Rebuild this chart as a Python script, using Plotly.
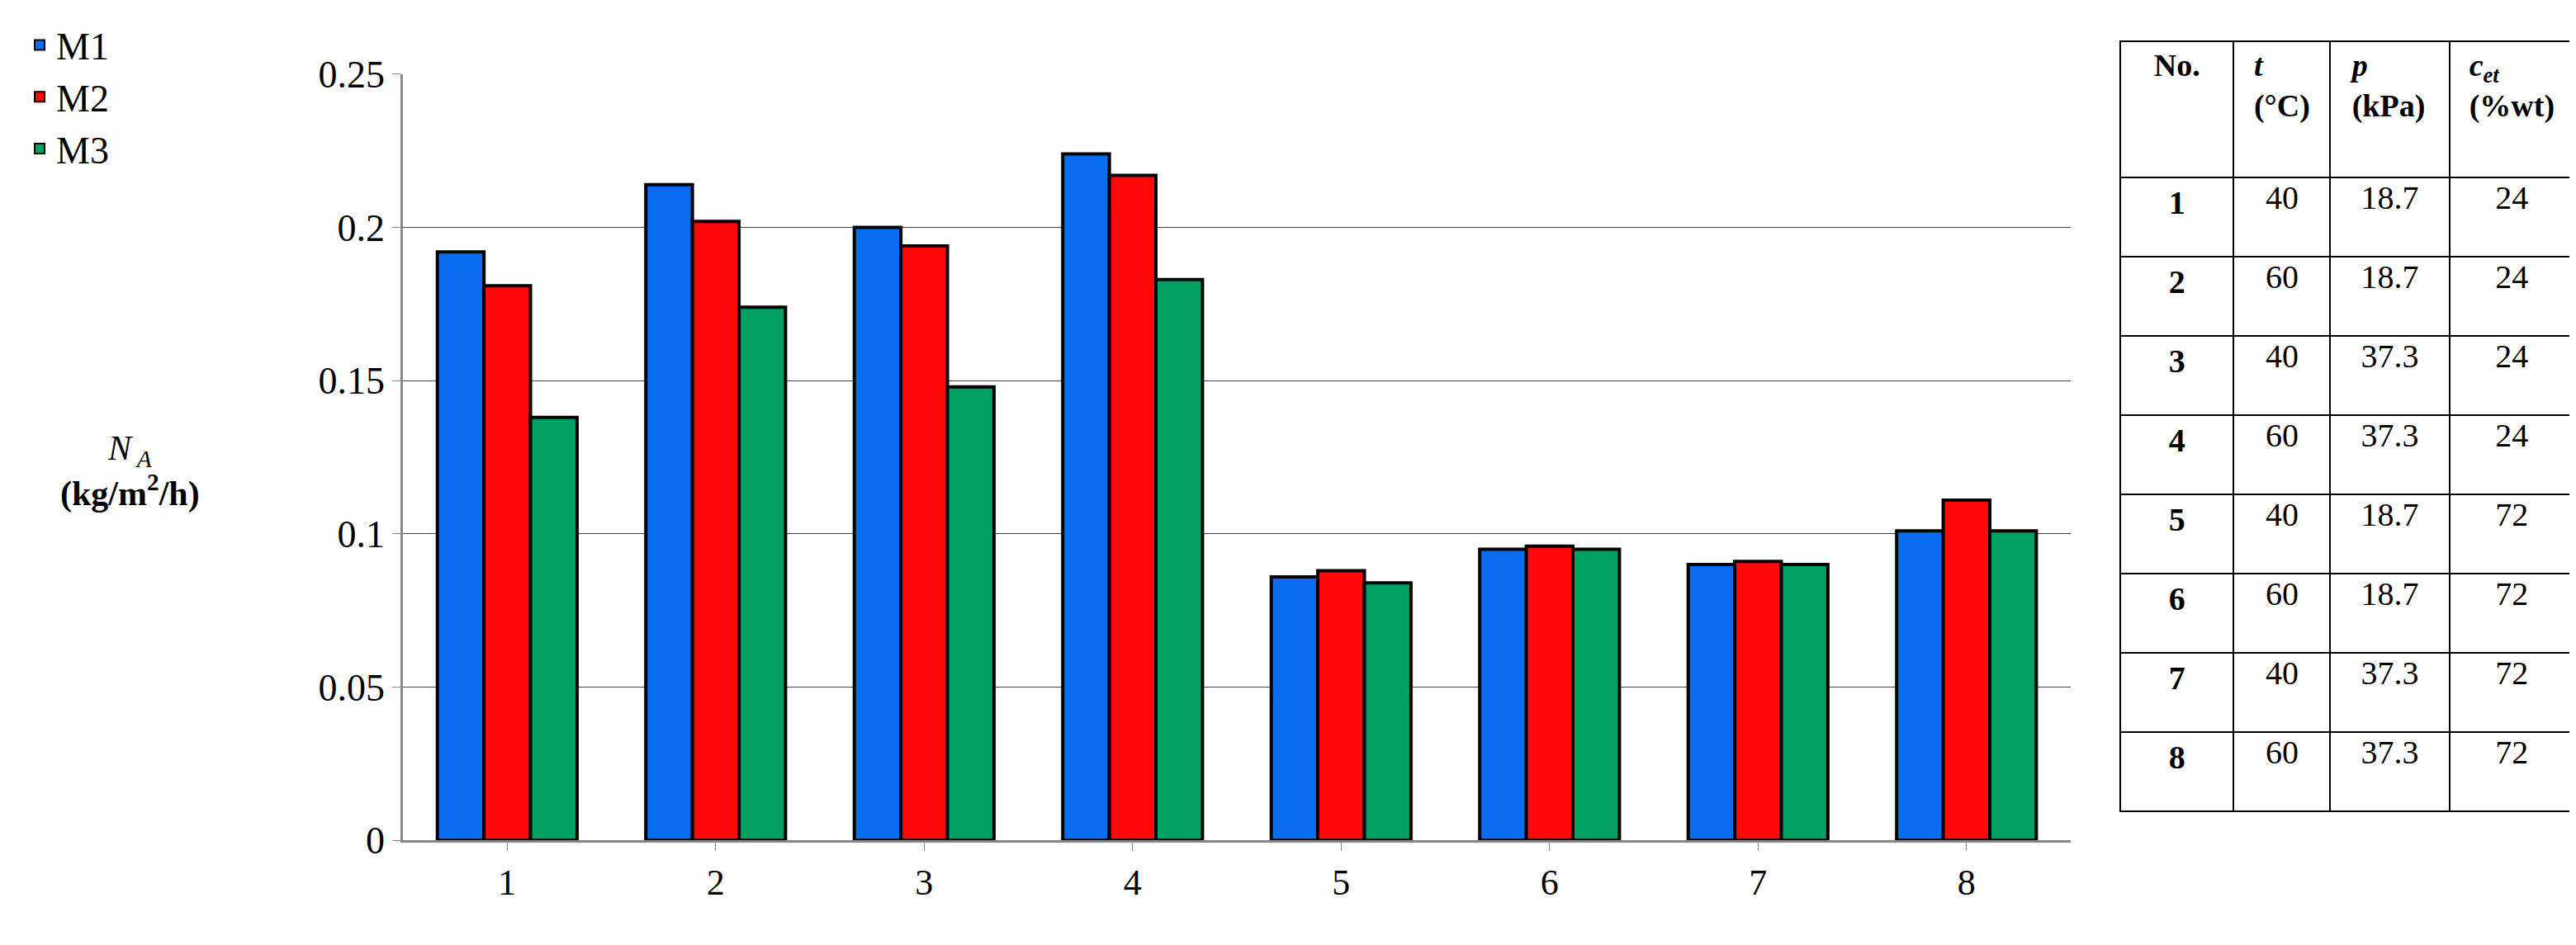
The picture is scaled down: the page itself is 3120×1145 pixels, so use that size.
import plotly.graph_objects as go

cats = ["1", "2", "3", "4", "5", "6", "7", "8"]
m1 = [0.192, 0.214, 0.200, 0.224, 0.086, 0.095, 0.090, 0.101]
m2 = [0.181, 0.202, 0.194, 0.217, 0.088, 0.096, 0.091, 0.111]
m3 = [0.138, 0.174, 0.148, 0.183, 0.084, 0.095, 0.090, 0.101]
series = [("M1", m1, "#0a6cf0"), ("M2", m2, "#ff0a0a"), ("M3", m3, "#00a060")]

tab_no = ["1", "2", "3", "4", "5", "6", "7", "8"]
tab_t = ["40", "60", "40", "60", "40", "60", "40", "60"]
tab_p = ["18.7", "18.7", "37.3", "37.3", "18.7", "18.7", "37.3", "37.3"]
tab_c = ["24", "24", "24", "24", "72", "72", "72", "72"]

FONT = "Liberation Serif"
fig = go.Figure()
for name, vals, col in series:
    fig.add_trace(go.Bar(x=cats, y=vals, name=name, marker=dict(color=col, line=dict(color="black", width=4))))

fig.add_trace(go.Table(
    domain=dict(x=[0.822, 1.0], y=[0.10, 1.0]),
    columnwidth=[1, 0.85, 1.05, 1.1],
    header=dict(values=["<b>No.</b>", "<b><i>t</i><br>(°C)</b>", "<b><i>p</i><br>(kPa)</b>", "<b><i>c<sub>et</sub></i><br>(%wt)</b>"],
                height=165, align="center", fill_color="white", line=dict(color="black", width=2),
                font=dict(family=FONT, size=38, color="black")),
    cells=dict(values=[["<b>%s</b>" % v for v in tab_no], tab_t, tab_p, tab_c],
               height=96, align="center", fill_color="white", line=dict(color="black", width=2),
               font=dict(family=FONT, size=40, color="black")),
))

fig.update_layout(
    width=3120, height=1145, paper_bgcolor="white", plot_bgcolor="white",
    margin=dict(l=20, r=10, t=40, b=40),
    barmode="group", bargap=0.33, bargroupgap=0,
    font=dict(family=FONT, size=44, color="black"),
    legend=dict(x=0.0, y=1.03, xanchor="left", yanchor="top", font=dict(size=46),
                itemsizing="constant", tracegroupgap=30),
    xaxis=dict(domain=[0.1489, 0.8026], showline=True, linecolor="#888", linewidth=3, ticks="outside",
               ticklen=10, tickcolor="#888", tickfont=dict(size=44)),
    yaxis=dict(domain=[0.0892, 0.9624], range=[0, 0.25], dtick=0.05, showgrid=True, gridcolor="#444", gridwidth=1,
               showline=True, linecolor="#888", linewidth=3, ticks="outside", ticklen=10, tickcolor="#888",
               tickfont=dict(size=46), zeroline=False),
    annotations=[dict(text="<i>N<sub> A</sub></i><br><b>(kg/m<sup>2</sup>/h)</b>", xref="paper", yref="paper",
                      x=0.042, y=0.51, xanchor="center", yanchor="middle", showarrow=False,
                      font=dict(family=FONT, size=42))],
)
fig.write_html("out.html")
